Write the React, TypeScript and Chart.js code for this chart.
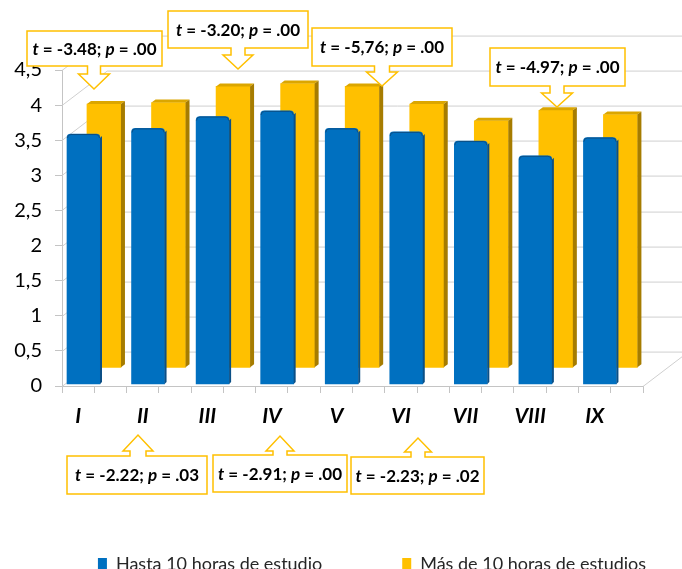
import React, { useEffect, useRef } from 'react';
import { Chart, registerables } from 'chart.js';

Chart.register(...registerables);

// ---------- data ----------
const categories = ['I', 'II', 'III', 'IV', 'V', 'VI', 'VII', 'VIII', 'IX'];
const hastaValues = [3.56, 3.64, 3.81, 3.89, 3.64, 3.59, 3.46, 3.25, 3.51];
const masValues = [3.75, 3.77, 4.0, 4.04, 4.0, 3.75, 3.51, 3.66, 3.6];
const seriesLabels = ['Hasta 10 horas de estudio', 'Más de 10 horas de estudios'];
const yTickLabels = ['0', '0,5', '1', '1,5', '2', '2,5', '3', '3,5', '4', '4,5'];
const topTValues = ['-3.48', '-3.20', '-5,76', '-4.97'];
const topPValues = ['.00', '.00', '.00', '.00'];
const bottomTValues = ['-2.22', '-2.91', '-2.23'];
const bottomPValues = ['.03', '.00', '.02'];

// ---------- layout / style ----------
const CANVAS_W = 744;
const CANVAS_H = 583;
const PLOT_LEFT = 62;
const PLOT_RIGHT = 643;
const PLOT_TOP = 70;
const PLOT_BOTTOM = 386;
const Y_MAX = 4.5;
const BLUE_SHIFT = 0.333; // category units
const YELLOW_SHIFT = 0.65;
const BLUE_SINK = 0.028; // value units
const YELLOW_SINK = 0.266;
const WALL_DY = 0.49; // value units
const WALL_DX = 0.7; // category units
const BLUE = '#0070c0';
const BLUE_SIDE = '#0b4f86';
const YELLOW = '#ffc000';
const YELLOW_TOP = '#dba600';
const YELLOW_SIDE = '#a67c00';
const GRID = '#cfcfcf';
const AXIS = '#c4c4c4';
const CALLOUT = '#ffc000';
const FONT = 'Lato';

const TOP_CALLOUTS = [
  { box: [27, 31, 162, 66], tip: [94, 89], stem: 13, head: 31, neck: 8 },
  { box: [168, 11, 308, 48], tip: [238, 69], stem: 14, head: 30, neck: 7 },
  { box: [312, 28, 452, 66], tip: [382, 86], stem: 15, head: 31, neck: 6 },
  { box: [490, 48, 625, 86], tip: [557, 107], stem: 14, head: 31, neck: 7 },
];
const BOTTOM_CALLOUTS = [
  { box: [67, 456, 207, 494], tip: [138, 435], stem: 16, head: 30, neck: 5 },
  { box: [213, 455, 347, 492], tip: [280, 436], stem: 14, head: 28, neck: 4 },
  { box: [351, 457, 484, 494], tip: [418, 438], stem: 14, head: 27, neck: 5 },
];

const wallPlugin = {
  id: 'walls3d',
  beforeDatasetsDraw(chart: any) {
    const { ctx, chartArea } = chart;
    const y = chart.scales.y;
    const x = chart.scales.x;
    const dy = y.getPixelForValue(0) - y.getPixelForValue(WALL_DY);
    const catW = x.getPixelForValue(2) - x.getPixelForValue(0);
    const dx = catW * WALL_DX;
    const left = chartArea.left;
    const right = chartArea.right;
    ctx.save();
    ctx.strokeStyle = GRID;
    ctx.lineWidth = 1;
    y.ticks.forEach((t: any) => {
      const py = Math.round(y.getPixelForValue(t.value)) + 0.5;
      ctx.beginPath();
      ctx.moveTo(left, py);
      ctx.lineTo(left + dx, py - dy);
      ctx.lineTo(right + dx, py - dy);
      ctx.stroke();
    });
    const y0 = Math.round(y.getPixelForValue(0)) + 0.5;
    ctx.beginPath();
    ctx.moveTo(right, y0);
    ctx.lineTo(right + dx, y0 - dy);
    ctx.stroke();
    ctx.restore();
  },
};

const facesPlugin = {
  id: 'faces3d',
  afterDatasetDraw(chart: any, args: any) {
    const { ctx } = chart;
    const isYellow = args.index === 1;
    ctx.save();
    args.meta.data.forEach((el: any) => {
      const { x, y, base, width } = el;
      const l = x - width / 2;
      const r = x + width / 2;
      if (isYellow) {
        const sx = 4;
        const sy = 3;
        ctx.fillStyle = YELLOW_TOP;
        ctx.beginPath();
        ctx.moveTo(l, y);
        ctx.lineTo(r, y);
        ctx.lineTo(r + sx, y - sy);
        ctx.lineTo(l + sx, y - sy);
        ctx.closePath();
        ctx.fill();
        ctx.fillStyle = YELLOW_SIDE;
        ctx.beginPath();
        ctx.moveTo(r, y);
        ctx.lineTo(r + sx, y - sy);
        ctx.lineTo(r + sx, base - sy);
        ctx.lineTo(r, base);
        ctx.closePath();
        ctx.fill();
      } else {
        const sx = 2;
        const sy = 2;
        ctx.fillStyle = BLUE_SIDE;
        ctx.beginPath();
        ctx.moveTo(r, y + 4);
        ctx.lineTo(r + sx, y + 4 - sy);
        ctx.lineTo(r + sx, base - sy);
        ctx.lineTo(r, base);
        ctx.closePath();
        ctx.fill();
        ctx.strokeStyle = BLUE_SIDE;
        ctx.lineWidth = 1;
        ctx.beginPath();
        ctx.moveTo(l + 0.5, y + 4);
        ctx.quadraticCurveTo(l + 0.5, y + 0.5, l + 4, y + 0.5);
        ctx.lineTo(r - 4, y + 0.5);
        ctx.quadraticCurveTo(r - 0.5, y + 0.5, r - 0.5, y + 4);
        ctx.stroke();
      }
    });
    ctx.restore();
  },
};

function drawCallout(ctx: CanvasRenderingContext2D, c: any, dir: 'up' | 'down', tVal: string, pVal: string) {
  const [x0, y0, x1, y1] = c.box;
  const [tx, ty] = c.tip;
  const hs = c.stem / 2;
  const hh = c.head / 2;
  ctx.save();
  ctx.beginPath();
  if (dir === 'down') {
    const hb = y1 + c.neck;
    ctx.moveTo(x0, y0);
    ctx.lineTo(x1, y0);
    ctx.lineTo(x1, y1);
    ctx.lineTo(tx + hs, y1);
    ctx.lineTo(tx + hs, hb);
    ctx.lineTo(tx + hh, hb);
    ctx.lineTo(tx, ty);
    ctx.lineTo(tx - hh, hb);
    ctx.lineTo(tx - hs, hb);
    ctx.lineTo(tx - hs, y1);
    ctx.lineTo(x0, y1);
  } else {
    const hb = y0 - c.neck;
    ctx.moveTo(x0, y0);
    ctx.lineTo(tx - hs, y0);
    ctx.lineTo(tx - hs, hb);
    ctx.lineTo(tx - hh, hb);
    ctx.lineTo(tx, ty);
    ctx.lineTo(tx + hh, hb);
    ctx.lineTo(tx + hs, hb);
    ctx.lineTo(tx + hs, y0);
    ctx.lineTo(x1, y0);
    ctx.lineTo(x1, y1);
    ctx.lineTo(x0, y1);
  }
  ctx.closePath();
  ctx.fillStyle = '#ffffff';
  ctx.fill();
  ctx.strokeStyle = CALLOUT;
  ctx.lineWidth = 1.5;
  ctx.stroke();

  const bold = `bold 17px ${FONT}`;
  const ital = `italic bold 17px ${FONT}`;
  const segs: [string, string][] = [
    ['t', ital],
    [` = ${tVal}; `, bold],
    ['p', ital],
    [` = ${pVal}`, bold],
  ];
  let total = 0;
  segs.forEach(([s, f]) => {
    ctx.font = f;
    total += ctx.measureText(s).width;
  });
  let cx = (x0 + x1) / 2 - total / 2;
  const cy = (y0 + y1) / 2 + 1;
  ctx.fillStyle = '#000000';
  ctx.textBaseline = 'middle';
  ctx.textAlign = 'left';
  segs.forEach(([s, f]) => {
    ctx.font = f;
    ctx.fillText(s, cx, cy);
    cx += ctx.measureText(s).width;
  });
  ctx.restore();
}

const calloutPlugin = {
  id: 'callouts',
  afterDraw(chart: any) {
    const { ctx } = chart;
    TOP_CALLOUTS.forEach((c, i) => drawCallout(ctx, c, 'down', topTValues[i], topPValues[i]));
    BOTTOM_CALLOUTS.forEach((c, i) => drawCallout(ctx, c, 'up', bottomTValues[i], bottomPValues[i]));
  },
};

export default function App() {
  const ref = useRef<HTMLCanvasElement | null>(null);

  useEffect(() => {
    if (!ref.current) return;
    const n = categories.length;
    const chart = new Chart(ref.current, {
      type: 'bar',
      data: {
        datasets: [
          {
            label: seriesLabels[0],
            data: hastaValues.map((v, i) => ({ x: i, y: v })),
            xAxisID: 'xB',
            yAxisID: 'yB',
            backgroundColor: BLUE,
            borderWidth: 0,
            barThickness: 33,
            borderRadius: 4,
            grouped: false,
          },
          {
            label: seriesLabels[1],
            data: masValues.map((v, i) => ({ x: i, y: v })),
            xAxisID: 'xY',
            yAxisID: 'yY',
            backgroundColor: YELLOW,
            borderWidth: 0,
            barThickness: 34,
            grouped: false,
          },
        ],
      } as any,
      options: {
        responsive: false,
        animation: false,
        devicePixelRatio: 1,
        layout: { padding: { top: PLOT_TOP, left: 0, right: 0, bottom: 0 } },
        plugins: {
          tooltip: { enabled: false },
          legend: {
            position: 'bottom',
            labels: {
              boxWidth: 9,
              boxHeight: 12,
              padding: 80,
              color: '#262626',
              font: { family: FONT, size: 18 },
            },
          },
        },
        scales: {
          x: {
            type: 'linear',
            position: 'bottom',
            offset: false,
            min: 0,
            max: n * 2,
            ticks: {
              stepSize: 1,
              autoSkip: false,
              maxRotation: 0,
              minRotation: 0,
              labelOffset: -16,
              padding: 11,
              color: '#000000',
              font: { family: FONT, size: 21, weight: 'bold', style: 'italic' },
              callback: (v: any) => (Number(v) % 2 === 1 ? categories[(Number(v) - 1) / 2] : ''),
            },
            grid: { offset: false, drawOnChartArea: false, drawTicks: true, tickLength: 7, color: AXIS },
            border: { display: true, color: AXIS },
            afterFit: (s: any) => {
              s.height = s.chart.height - (s.chart.legend ? s.chart.legend.height : 0) - PLOT_BOTTOM;
            },
          },
          y: {
            type: 'linear',
            position: 'left',
            min: 0,
            max: Y_MAX,
            ticks: {
              stepSize: 0.5,
              padding: 13,
              color: '#000000',
              font: { family: FONT, size: 20 },
              callback: (_v: any, i: number) => yTickLabels[i],
            },
            grid: { drawOnChartArea: false, drawTicks: true, tickLength: 7, color: AXIS },
            border: { display: true, color: AXIS },
            afterFit: (s: any) => {
              s.width = PLOT_LEFT;
            },
          },
          yR: {
            type: 'linear',
            position: 'right',
            min: 0,
            max: 1,
            ticks: { display: false },
            grid: { display: false },
            border: { display: false },
            afterFit: (s: any) => {
              s.width = CANVAS_W - PLOT_RIGHT;
            },
          },
          xB: { type: 'linear', display: false, offset: false, grid: { offset: false }, min: -BLUE_SHIFT, max: n - BLUE_SHIFT },
          xY: { type: 'linear', display: false, offset: false, grid: { offset: false }, min: -YELLOW_SHIFT, max: n - YELLOW_SHIFT },
          yB: { type: 'linear', display: false, min: -BLUE_SINK, max: Y_MAX - BLUE_SINK },
          yY: { type: 'linear', display: false, min: -YELLOW_SINK, max: Y_MAX - YELLOW_SINK },
        },
      } as any,
      plugins: [wallPlugin, facesPlugin, calloutPlugin],
    });
    return () => chart.destroy();
  }, []);

  return (
    <div
      style={{
        position: 'fixed',
        left: 0,
        top: 0,
        width: 682,
        height: 569,
        overflow: 'hidden',
        background: '#ffffff',
      }}
    >
      <canvas
        ref={ref}
        width={CANVAS_W}
        height={CANVAS_H}
        style={{ display: 'block', width: CANVAS_W, height: CANVAS_H }}
      />
    </div>
  );
}
